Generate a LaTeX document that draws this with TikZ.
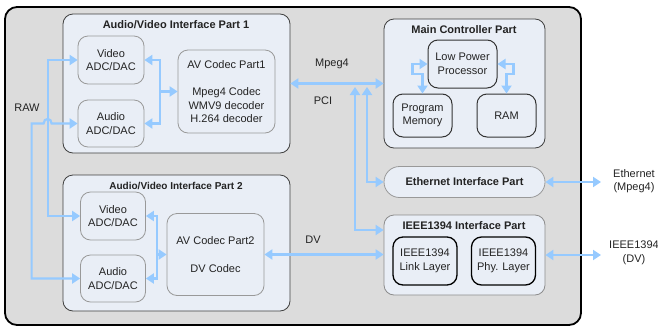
\documentclass[tikz,border=0pt]{standalone}
\usepackage{fontspec}
\setmainfont{Liberation Sans}
\usetikzlibrary{positioning,arrows.meta}
\definecolor{panel}{RGB}{220,220,220}
\definecolor{boxfill}{RGB}{233,238,246}
\definecolor{link}{RGB}{150,202,255}
\definecolor{ink}{RGB}{35,35,35}

\begin{document}
\begin{tikzpicture}[x=1pt, y=-1pt,
  font=\fontsize{11}{13.5}\selectfont, text=ink,
  board/.style={draw=black, line width=1.8pt, fill=panel, rounded corners=12pt},
  group/.style={draw=black!75, line width=0.8pt, fill=boxfill, rounded corners=10pt, inner sep=0pt},
  unit/.style={draw=black!40, line width=0.8pt, fill=boxfill, rounded corners=10pt, align=center, inner sep=0pt},
  core/.style={unit, draw=black!80, line width=1pt},
  title/.style={font=\fontsize{11}{13}\selectfont\bfseries},
  arrow/.style={draw=link, line width=2.2pt, -{Triangle[length=8pt,width=10pt]}},
  biarrow/.style={arrow, {Triangle[length=8pt,width=10pt]}-{Triangle[length=8pt,width=10pt]}}
]
\useasboundingbox (0,0) rectangle (658,327);
\node[board, minimum width=576pt, minimum height=318pt] (chassis) at (293,166) {};

% audio/video part 1
\node[group, minimum width=227pt, minimum height=139pt] (av1) at (176.5,83.5) {};
\node[title] (av1t) at (176,25) {Audio/Video Interface Part 1};
\node[unit, minimum width=66pt, minimum height=48pt] (vid1) at (111,60) {Video\\ADC/DAC};
\node[unit, minimum width=66pt, minimum height=47pt] (aud1) at (111,123.5) {Audio\\ADC/DAC};
\node[unit, minimum width=97pt, minimum height=83pt] (codec1) at (226.5,91.5)
  {AV Codec Part1\\[14pt]Mpeg4 Codec\\WMV9 decoder\\H.264 decoder};

% audio/video part 2
\node[group, minimum width=227pt, minimum height=136pt] (av2) at (176.5,243) {};
\node[title, font=\fontsize{10}{12}\selectfont\bfseries] (av2t) at (176,186) {Audio/Video Interface Part 2};
\node[unit, minimum width=65pt, minimum height=48pt] (vid2) at (113,216) {Video\\ADC/DAC};
\node[unit, minimum width=65pt, minimum height=47pt] (aud2) at (113,278.5) {Audio\\ADC/DAC};
\node[unit, minimum width=97pt, minimum height=82pt] (codec2) at (215.5,254.5)
  {AV Codec Part2\\[14pt]DV Codec};

% main controller
\node[group, minimum width=161pt, minimum height=129pt] (mc) at (464.5,83.5) {};
\node[title] (mct) at (464,30) {Main Controller Part};
\node[core, minimum width=69pt, minimum height=48pt] (lpp) at (462.5,64) {Low Power\\Processor};
\node[core, minimum width=59pt, minimum height=43pt] (pm) at (422.5,115.5) {Program\\Memory};
\node[core, minimum width=59pt, minimum height=43pt] (ram) at (506.5,115.5) {RAM};

% network interfaces
\node[unit, font=\fontsize{11}{13}\selectfont\bfseries, rounded corners=15.5pt,
  minimum width=161pt, minimum height=31pt] (eth) at (464.5,182) {Ethernet Interface Part};
\node[group, draw=black!45, minimum width=161pt, minimum height=80pt] (ieee) at (464.5,255) {};
\node[title] (ieeet) at (464,226) {IEEE1394 Interface Part};
\node[core, line width=1.3pt, draw=black, minimum width=64pt, minimum height=48pt] (lnk) at (425,261) {IEEE1394\\Link Layer};
\node[core, line width=1.3pt, draw=black, minimum width=64pt, minimum height=48pt] (phy) at (503.5,261) {IEEE1394\\Phy. Layer};

% labels
\node (raw) at (27,108) {RAW};
\node (mpeg) at (332,64) {Mpeg4};
\node (pci) at (323,101) {PCI};
\node (dv) at (313,240) {DV};
\node[align=center] (ethnet) at (634,181) {Ethernet\\(Mpeg4)};
\node[align=center] (firewire) at (634,253) {IEEE1394\\(DV)};

\coordinate (hub1) at (160,91.5);
\coordinate (hub2) at (157,254.5);
\coordinate (tapE) at (367,87);
\coordinate (tapI) at (355,87);
\coordinate (ethend) at (601,182);
\coordinate (fwend) at (601,255);

% connectors
\draw[arrow] (hub1) |- (vid1.east);
\draw[arrow] (hub1) |- (aud1.east);
\draw[arrow] (hub1) -- (codec1.west);
\draw[arrow] (hub2) |- (vid2.east);
\draw[arrow] (hub2) |- (aud2.east);
\draw[arrow] (hub2) -- (codec2.west);
\draw[biarrow] (vid1.west) -- ++(-30,0) |- (vid2.west);
\draw[biarrow] (aud1.west) -- ++(-26,0) .. controls +(0,-6) and +(0,-6) .. ++(-8,0) -- ++(-12,0) |- (aud2.west);
\draw[biarrow] (av1.east) -- (mc.west);
\draw[biarrow] (tapE) |- (eth.west);
\draw[biarrow] (tapI) |- ([yshift=25pt]ieee.west);
\draw[biarrow] (codec2.east) -- (codec2.east -| ieee.west);
\draw[biarrow] (eth.east) -- (ethend);
\draw[biarrow] (ieee.east) -- (fwend);
\draw[biarrow] (lpp.west) -- ++(-15,0) -- ++(0,10) -| (pm.north);
\draw[biarrow] (lpp.east) -- ++(16,0) -- ++(0,10) -| (ram.north);
\end{tikzpicture}
\end{document}
